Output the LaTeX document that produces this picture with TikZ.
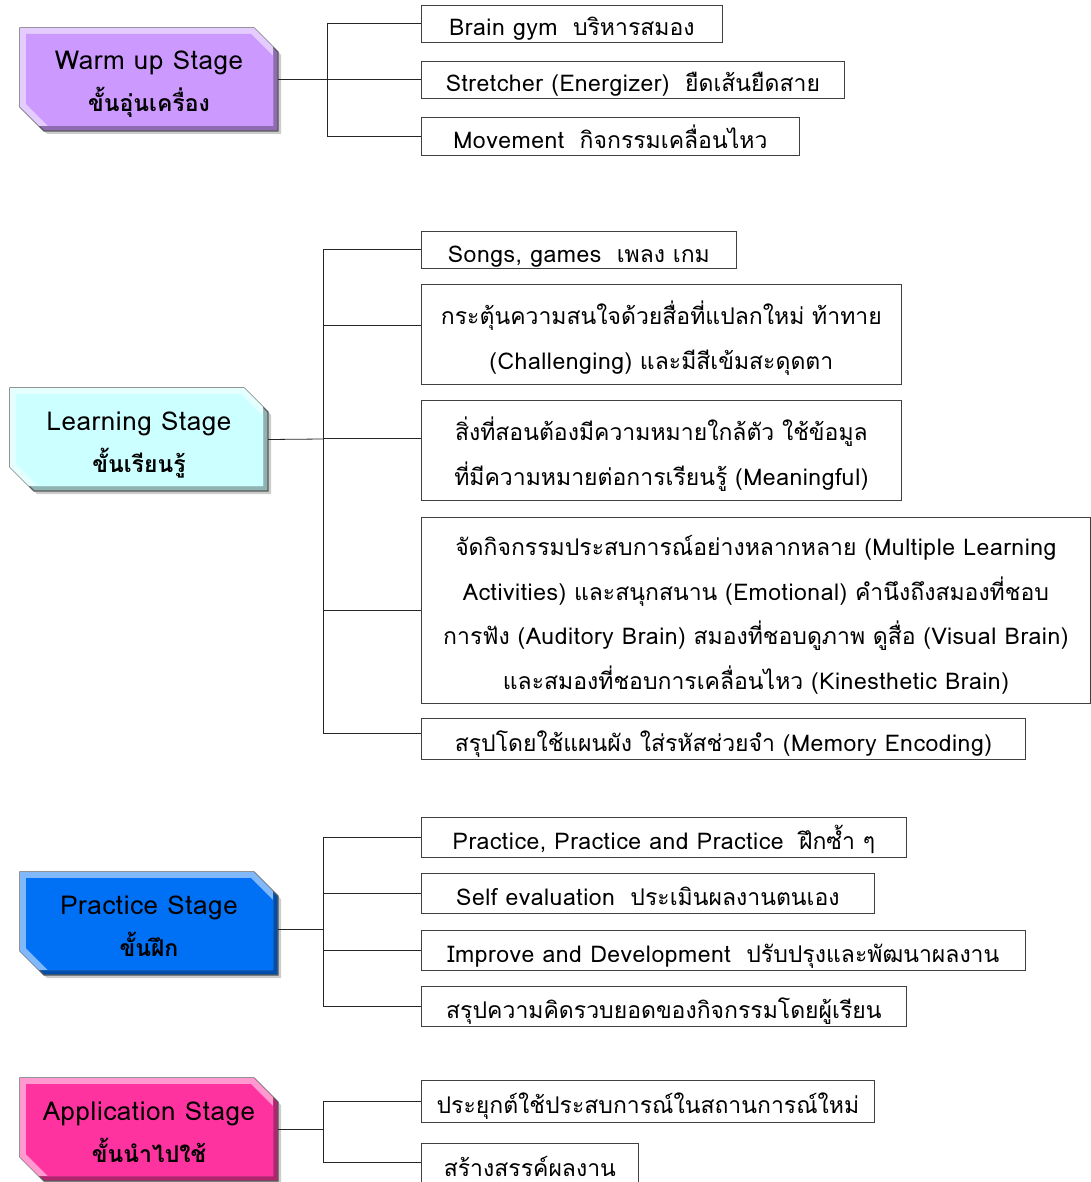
\documentclass[tikz,border=0pt]{standalone}
\usepackage{fontspec}
\setmainfont[Script=Thai]{Loma}
\newfontfamily\enfont[LetterSpace=2.2]{Loma}
\newcommand{\en}[1]{{\enfont #1}}
\usepackage{tikz}

\definecolor{warmfill}{RGB}{204,153,255}
\definecolor{learnfill}{RGB}{204,255,255}
\definecolor{practfill}{RGB}{0,112,245}
\definecolor{applyfill}{RGB}{255,51,160}

% bevelled box, top left corner at (#1,#2)
\newcommand{\stageshape}[3]{%
  \begin{scope}[shift={(#1,#2)}]
    \fill[black!50, opacity=.4] (3,3) -- (237,3) -- (261,27) -- (261,106) -- (27,106) -- (3,82) -- cycle;
    \filldraw[fill=#3!70!black, draw=black!65, line width=1.2pt] (0,0) -- (234,0) -- (258,24) -- (258,103) -- (24,103) -- (0,79) -- cycle;
    \fill[#3!50!white] (0,0) -- (234,0) -- (253,19) -- (253,98) -- (19,98) -- (0,79) -- cycle;
    \fill[#3] (6,6) -- (231,6) -- (253,28) -- (253,98) -- (28,98) -- (6,76) -- cycle;
  \end{scope}}

\tikzset{
  stage/.style={minimum width=258pt, minimum height=103pt, inner sep=0pt, align=center,
    text height=65pt, text depth=0pt, font=\fontsize{23}{42}\selectfont},
  leaf/.style={draw=black!75, line width=0.8pt, anchor=west, inner sep=0pt, align=center,
    text height=25pt, text depth=0pt, font=\fontsize{23}{45}\selectfont},
  leaftwo/.style={leaf, text height=70pt},
  leaffour/.style={leaf, text height=158.5pt, font=\fontsize{23}{44.5}\selectfont},
  link/.style={draw=black!85, line width=0.8pt}
}
\newcommand{\stagename}[1]{{\fontsize{26}{42}\selectfont\en{#1}}}

\begin{document}
\begin{tikzpicture}[x=1pt, y=-1pt]
  \useasboundingbox (0,0) rectangle (1091,1182);

  % warm up
  \stageshape{20}{28}{warmfill}
  \node[stage] (warm) at (149,79.5) {\stagename{Warm up Stage}\\\textbf{ขั้นอุ่นเครื่อง}};
  \node[leaf, minimum width=301pt, minimum height=37pt] (w1) at (421,23.5)  {\en{Brain gym}\ \ บริหารสมอง};
  \node[leaf, minimum width=423pt, minimum height=37pt] (w2) at (421,79.5)  {\en{Stretcher (Energizer)}\ \ ยืดเส้นยืดสาย};
  \node[leaf, minimum width=378pt, minimum height=38pt] (w3) at (421,136)   {\en{Movement}\ \ กิจกรรมเคลื่อนไหว};
  \coordinate (wj) at (327,79.5);
  \draw[link] (warm.east) -- (wj);
  \draw[link] (wj) |- (w1.west);
  \draw[link] (wj) |- (w2.west);
  \draw[link] (wj) |- (w3.west);

  % learning
  \stageshape{10}{388}{learnfill}
  \node[stage] (learn) at (139,439.5) {\stagename{Learning Stage}\\\textbf{ขั้นเรียนรู้}};
  \node[leaf, minimum width=315pt, minimum height=37pt]      (l1) at (421,249.5) {\en{Songs, games}\ \ เพลง เกม};
  \node[leaftwo, minimum width=480pt, minimum height=100pt]  (l2) at (421,334)   {กระตุ้นความสนใจด้วยสื่อที่แปลกใหม่ ท้าทาย\\\en{(Challenging)} และมีสีเข้มสะดุดตา};
  \node[leaftwo, minimum width=480pt, minimum height=100pt]  (l3) at (421,450)   {สิ่งที่สอนต้องมีความหมายใกล้ตัว ใช้ข้อมูล\\ที่มีความหมายต่อการเรียนรู้ \en{(Meaningful)}};
  \node[leaffour, minimum width=669pt, minimum height=186pt] (l4) at (421,610)   {จัดกิจกรรมประสบการณ์อย่างหลากหลาย \en{(Multiple Learning}\\\en{Activities)} และสนุกสนาน \en{(Emotional)} คำนึงถึงสมองที่ชอบ\\การฟัง \en{(Auditory Brain)} สมองที่ชอบดูภาพ ดูสื่อ \en{(Visual Brain)}\\และสมองที่ชอบการเคลื่อนไหว \en{(Kinesthetic Brain)}};
  \node[leaf, minimum width=604pt, minimum height=41pt]      (l5) at (421,738.5) {สรุปโดยใช้แผนผัง ใส่รหัสช่วยจำ \en{(Memory Encoding)}};
  \coordinate (lj) at (323,439);
  \draw[link] (learn.east) -- (lj);
  \draw[link] (lj) |- (l1.west);
  \draw[link] (lj) |- ([yshift=9pt]l2.west);
  \draw[link] (lj) |- ([yshift=12pt]l3.west);
  \draw[link] (lj) |- (l4.west);
  \draw[link] (lj) |- ([yshift=5pt]l5.west);

  % practice
  \stageshape{20}{872}{practfill}
  \node[stage] (pract) at (149,923.5) {\stagename{Practice Stage}\\\textbf{ขั้นฝึก}};
  \node[leaf, minimum width=485pt, minimum height=40pt] (p1) at (421,837)  {\en{Practice, Practice and Practice}\ \ ฝึกซ้ำ ๆ};
  \node[leaf, minimum width=453pt, minimum height=40pt] (p2) at (421,893)  {\en{Self evaluation}\ \ ประเมินผลงานตนเอง};
  \node[leaf, minimum width=604pt, minimum height=40pt] (p3) at (421,950)  {\en{Improve and Development}\ \ ปรับปรุงและพัฒนาผลงาน};
  \node[leaf, minimum width=485pt, minimum height=40pt] (p4) at (421,1006) {สรุปความคิดรวบยอดของกิจกรรมโดยผู้เรียน};
  \coordinate (pj) at (323,929);
  \draw[link] ([yshift=-5.5pt]pract.east) -- (pj);
  \draw[link] (pj) |- (p1.west);
  \draw[link] (pj) |- (p2.west);
  \draw[link] (pj) |- (p3.west);
  \draw[link] (pj) |- (p4.west);

  % application
  \stageshape{20}{1078}{applyfill}
  \node[stage] (apply) at (149,1129.5) {\stagename{Application Stage}\\\textbf{ขั้นนำไปใช้}};
  \node[leaf, minimum width=453pt, minimum height=42pt] (a1) at (421,1101) {ประยุกต์ใช้ประสบการณ์ในสถานการณ์ใหม่};
  \node[leaf, minimum width=217pt, minimum height=42pt] (a2) at (421,1164) {สร้างสรรค์ผลงาน};
  \coordinate (aj) at (323,1129.5);
  \draw[link] (apply.east) -- (aj);
  \draw[link] (aj) |- (a1.west);
  \draw[link] (aj) |- ([yshift=2pt]a2.west);
\end{tikzpicture}
\end{document}
